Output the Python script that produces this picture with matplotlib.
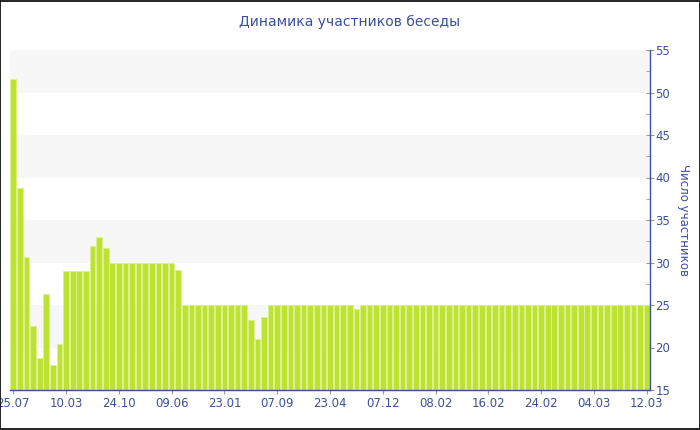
import matplotlib
matplotlib.use("Agg")
import matplotlib.pyplot as plt
import matplotlib.patches as mpatches
import numpy as np
from matplotlib.ticker import MultipleLocator

# participants per period
members = [
    51.6, 38.8, 30.65, 22.5, 18.8, 26.3, 18.0, 20.4,
    29, 29, 29, 29, 32, 33, 31.75, 30,
    30, 30, 30, 30, 30, 30, 30, 30,
    30, 29.1, 25, 25, 25, 25, 25, 25,
    25, 25, 25, 25, 23.2, 21.0, 23.6, 25,
    25, 25, 25, 25, 25, 25, 25, 25,
    25, 25, 25, 25, 24.5, 25, 25, 25,
    25, 25, 25, 25, 25, 25, 25, 25,
    25, 25, 25, 25, 25, 25, 25, 25,
    25, 25, 25, 25, 25, 25, 25, 25,
    25, 25, 25, 25, 25, 25, 25, 25,
    25, 25, 25, 25, 25, 25, 25, 25,
    25,
]
tick_labels = ["25.07", "10.03", "24.10", "09.06", "23.01", "07.09", "23.04",
               "07.12", "08.02", "16.02", "24.02", "04.03", "12.03"]
tick_step = 8

title = "Динамика участников беседы"
ylabel = "Число участников"

blue = "#3D4F9E"
bar_col = "#BDE232"
edge_col = "#DDF08F"

fig = plt.figure(figsize=(7, 4.3), dpi=100)
ax = fig.add_axes([10 / 700, 40 / 430, 640 / 700, 340 / 430])

x = np.arange(len(members))
ax.bar(x, members, width=0.86, color=bar_col, edgecolor=edge_col,
       linewidth=0.7, zorder=2)

# alternating background bands
for lo in [20, 30, 40, 50]:
    ax.axhspan(lo, lo + 5, color="#F7F7F7", zorder=0, lw=0)

ax.set_xlim(-0.5, len(members) - 0.5)
ax.set_ylim(15, 55)

ax.yaxis.tick_right()
ax.yaxis.set_label_position("right")
ax.yaxis.set_major_locator(MultipleLocator(5))
ax.yaxis.set_minor_locator(MultipleLocator(2.5))
ax.tick_params(axis="y", which="major", direction="inout", length=6,
               color="#999999", labelcolor=blue, labelsize=8.5, pad=1)
ax.tick_params(axis="y", which="minor", direction="in", length=3,
               color="#999999")
ax.set_ylabel(ylabel, rotation=270, color=blue, fontsize=8.5, labelpad=14)

ax.set_xticks(x[::tick_step])
ax.set_xticklabels(tick_labels)
ax.tick_params(axis="x", direction="out", length=3, color="#999999",
               labelcolor=blue, labelsize=8.5, pad=2)

for side in ["top", "left"]:
    ax.spines[side].set_visible(False)
for side in ["bottom", "right"]:
    ax.spines[side].set_color(blue)
    ax.spines[side].set_linewidth(1)

fig.text(0.5, 1 - 22 / 430, title, ha="center", va="center",
         color=blue, fontsize=10)

# thin frame round the whole picture
fig.add_artist(mpatches.Rectangle((0.0007, 0.0012), 0.9986, 0.9976,
                                  transform=fig.transFigure, fill=False,
                                  edgecolor="black", linewidth=1.2))

fig.savefig("out.png", dpi=100)
